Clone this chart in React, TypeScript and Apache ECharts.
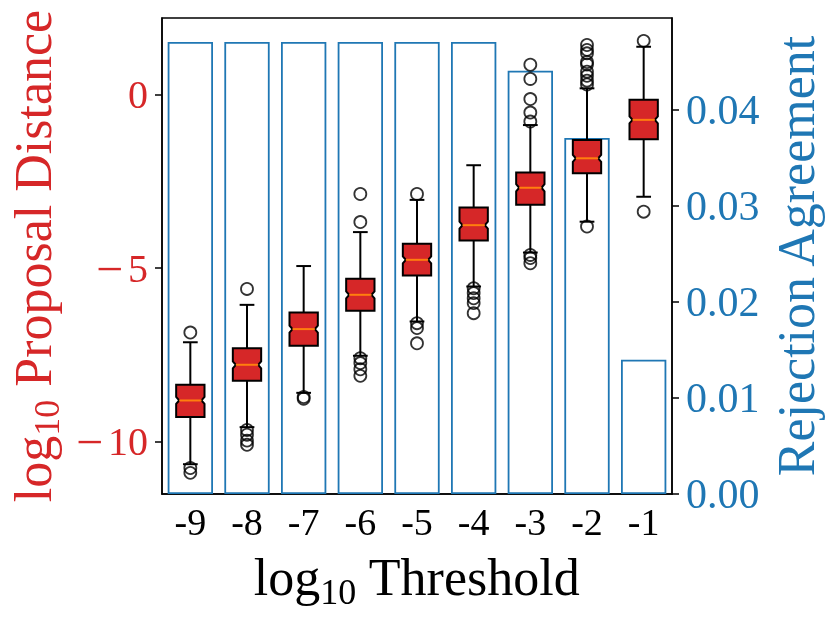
import React, { useEffect, useRef } from "react";
import * as echarts from "echarts";

const categories = ["-9", "-8", "-7", "-6", "-5", "-4", "-3", "-2", "-1"];
const agreement = [0.0471, 0.0471, 0.0471, 0.0471, 0.0471, 0.0471, 0.0441, 0.0371, 0.014];
const whiskerLow = [-10.66, -9.59, -8.6, -7.53, -6.54, -5.53, -4.55, -3.66, -2.94];
const q1 = [-9.3, -8.25, -7.24, -6.23, -5.21, -4.2, -3.17, -2.26, -1.28];
const median = [-8.82, -7.79, -6.76, -5.77, -4.76, -3.76, -2.68, -1.83, -0.72];
const q3 = [-8.37, -7.31, -6.28, -5.31, -4.3, -3.25, -2.24, -1.3, -0.14];
const whiskerHigh = [-7.14, -6.06, -4.94, -3.96, -3.03, -2.03, -0.87, 0.19, 1.39];
const outliers = [
  [-6.86, -10.77, -10.91],
  [-5.6, -9.67, -9.81, -9.98, -10.1],
  [-8.72, -8.77],
  [-2.86, -3.67, -7.6, -7.74, -7.92, -8.11],
  [-2.86, -6.59, -6.73, -7.17],
  [-5.58, -5.72, -5.87, -6.01, -6.3],
  [0.87, 0.46, -0.12, -0.51, -0.77, -4.62, -4.71, -4.86],
  [1.44, 1.3, 1.2, 0.95, 0.88, 0.67, 0.55, 0.41, 0.3, -3.8],
  [1.56, -3.37],
];
const leftTicks = [-10, -5, 0];
const rightTicks = [0, 0.01, 0.02, 0.03, 0.04];

const FONT = "Liberation Serif";
const RED = "#d62728";
const BLUE = "#1f77b4";

export default function App() {
  const ref = useRef<HTMLDivElement>(null);
  useEffect(() => {
    if (!ref.current) return;
    const chart = echarts.init(ref.current, undefined, { renderer: "svg" });
    const boxData = categories.map((_, i) => [i, whiskerLow[i], q1[i], median[i], q3[i], whiskerHigh[i]]);
    const outData: number[][] = [];
    outliers.forEach((arr, i) => arr.forEach((v) => outData.push([i, v])));

    const richTitle = (color: string) => ({
      n: { fontSize: 52, fontFamily: FONT, color, lineHeight: 52 },
      s: { fontSize: 36, fontFamily: FONT, color, lineHeight: 36, padding: [28, 0, 0, 0] },
    });

    chart.setOption({
      animation: false,
      grid: {
        left: 162, right: 158, top: 18, bottom: 129,
        outerBoundsMode: "none", containLabel: false,
        show: true, borderColor: "#000", borderWidth: 1.5, backgroundColor: "transparent",
      },
      xAxis: {
        type: "category",
        data: categories,
        axisLine: { onZero: false, lineStyle: { color: "#000", width: 1.5 } },
        axisTick: { alignWithLabel: true, length: 7, lineStyle: { color: "#000", width: 1.5 } },
        axisLabel: { color: "#000", fontSize: 38, fontFamily: FONT, margin: 9 },
        name: "{n|log}{s|10}{n| Threshold}",
        nameLocation: "middle",
        nameGap: 47,
        nameTextStyle: { rich: richTitle("#000") },
      },
      yAxis: [
        {
          type: "value",
          min: -11.52,
          max: 2.22,
          position: "left",
          axisLine: { show: true, lineStyle: { color: "#000", width: 1.5 } },
          axisTick: { show: true, length: 7, customValues: leftTicks, lineStyle: { color: "#000", width: 1.5 } },
          axisLabel: {
            color: RED,
            fontSize: 40,
            fontFamily: FONT,
            margin: 14,
            customValues: leftTicks,
            formatter: (v: number) => (v < 0 ? "{m|\u2212}{d|" + Math.abs(v) + "}" : "{d|" + v + "}"),
            rich: {
              m: { fontSize: 48, fontFamily: FONT, color: RED, padding: [0, 5, 0, 0] },
              d: { fontSize: 40, fontFamily: FONT, color: RED },
            },
          },
          splitLine: { show: false },
          name: "{n|log}{s|10}{n| Proposal Distance}",
          nameLocation: "middle",
          nameRotate: 90,
          nameGap: 100,
          nameTextStyle: { rich: richTitle(RED) },
        },
        {
          type: "value",
          min: 0,
          max: 0.0496,
          position: "right",
          axisLine: { show: true, lineStyle: { color: "#000", width: 1.5 } },
          axisTick: { show: true, length: 7, customValues: rightTicks, lineStyle: { color: "#000", width: 1.5 } },
          axisLabel: {
            color: BLUE,
            fontSize: 42,
            fontFamily: FONT,
            margin: 14,
            customValues: rightTicks,
            formatter: (v: number) => v.toFixed(2),
          },
          splitLine: { show: false },
          name: "Rejection Agreement",
          nameLocation: "middle",
          nameRotate: 90,
          nameGap: 80,
          nameTextStyle: { color: BLUE, fontSize: 52, fontFamily: FONT },
        },
      ],
      series: [
        {
          type: "bar",
          yAxisIndex: 1,
          data: agreement,
          barWidth: "80%",
          itemStyle: { color: "rgba(0,0,0,0)", borderColor: BLUE, borderWidth: 1.8 },
          z: 1,
        },
        {
          type: "custom",
          yAxisIndex: 0,
          data: boxData,
          encode: { x: 0, y: [1, 2, 3, 4, 5] },
          z: 3,
          renderItem: (params: any, api: any) => {
            const idx = api.value(0);
            const band = api.size([1, 0])[0];
            const half = band * 0.25;
            const capHalf = band * 0.13;
            const cx = api.coord([idx, api.value(3)])[0];
            const yWl = api.coord([idx, api.value(1)])[1];
            const yQ1 = api.coord([idx, api.value(2)])[1];
            const yMed = api.coord([idx, api.value(3)])[1];
            const yQ3 = api.coord([idx, api.value(4)])[1];
            const yWh = api.coord([idx, api.value(5)])[1];
            const nh = 3.5;
            const nw = 3;
            const L = cx - half;
            const R = cx + half;
            const ls = { stroke: "#000", lineWidth: 2 };
            return {
              type: "group",
              children: [
                { type: "line", shape: { x1: cx, y1: yQ1, x2: cx, y2: yWl }, style: ls },
                { type: "line", shape: { x1: cx, y1: yQ3, x2: cx, y2: yWh }, style: ls },
                { type: "line", shape: { x1: cx - capHalf, y1: yWl, x2: cx + capHalf, y2: yWl }, style: ls },
                { type: "line", shape: { x1: cx - capHalf, y1: yWh, x2: cx + capHalf, y2: yWh }, style: ls },
                {
                  type: "polygon",
                  shape: {
                    points: [
                      [L, yQ1], [R, yQ1], [R, yMed + nh], [R - nw, yMed], [R, yMed - nh],
                      [R, yQ3], [L, yQ3], [L, yMed - nh], [L + nw, yMed], [L, yMed + nh],
                    ],
                  },
                  style: { fill: RED, stroke: "#000", lineWidth: 2 },
                },
                { type: "line", shape: { x1: L + nw, y1: yMed, x2: R - nw, y2: yMed }, style: { stroke: "#ff7f0e", lineWidth: 2 } },
              ],
            };
          },
        },
        {
          type: "scatter",
          yAxisIndex: 0,
          data: outData,
          symbol: "circle",
          symbolSize: 12,
          itemStyle: { color: "rgba(255,255,255,0)", borderColor: "#000", borderWidth: 1.8 },
          z: 4,
        },
      ],
    });
    return () => chart.dispose();
  }, []);
  return <div ref={ref} style={{ position: "fixed", left: 0, top: 0, width: 830, height: 623 }} />;
}
